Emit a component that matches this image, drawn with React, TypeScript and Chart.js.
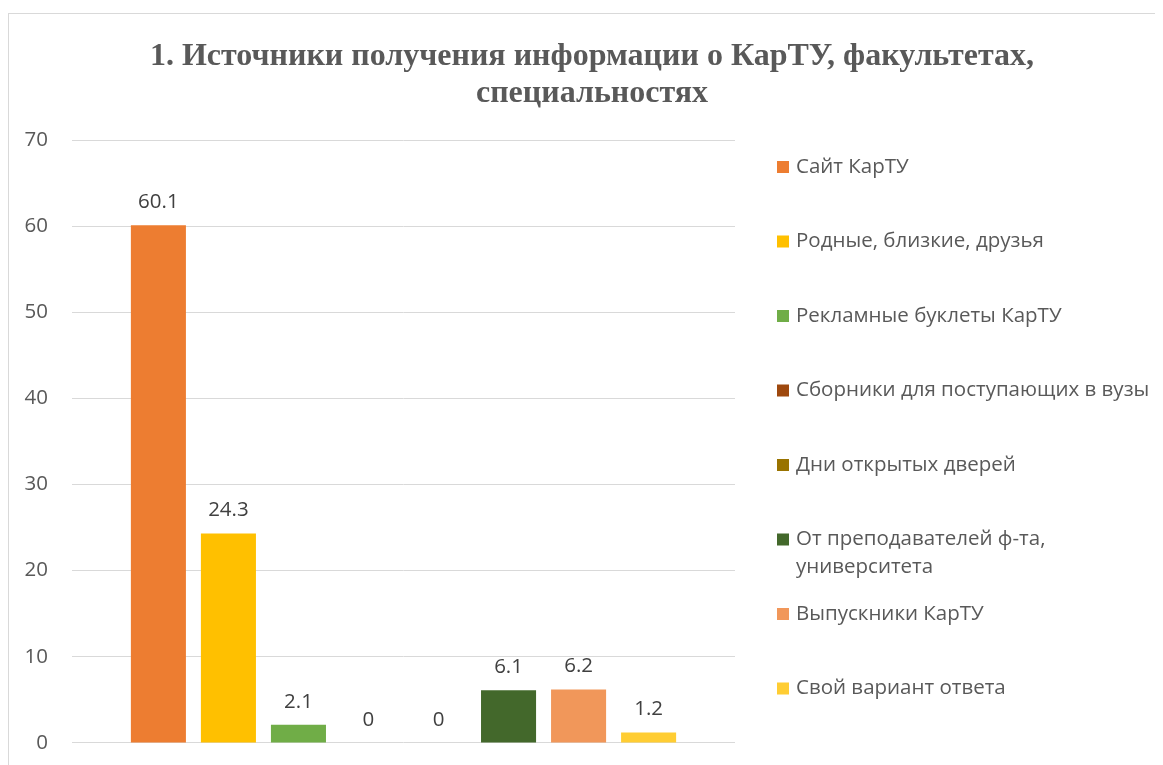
import React, { useEffect, useRef } from "react";
import { Chart, registerables } from "chart.js";

Chart.register(...registerables);

const titleLines = ["1. Источники получения информации о КарТУ, факультетах,", "специальностях"];
const categories = [""];
const seriesNames = [
  "Сайт КарТУ",
  "Родные, близкие, друзья",
  "Рекламные буклеты КарТУ",
  "Сборники для поступающих в вузы",
  "Дни открытых дверей",
  "От преподавателей ф-та, университета",
  "Выпускники КарТУ",
  "Свой вариант ответа",
];
const seriesValues = [60.1, 24.3, 2.1, 0, 0, 6.1, 6.2, 1.2];
const seriesColors = ["#ED7D31", "#FFC000", "#70AD47", "#9E480E", "#997300", "#43682B", "#F1975A", "#FFCD33"];
const yTicks = [0, 10, 20, 30, 40, 50, 60, 70];

const FONT = "'Open Sans', 'Noto Sans', sans-serif";

const dataLabelPlugin = {
  id: "dataLabels",
  afterDatasetsDraw(chart: any) {
    const ctx = chart.ctx;
    ctx.save();
    ctx.font = `20.5px ${FONT}`;
    ctx.fillStyle = "#404040";
    ctx.textAlign = "center";
    ctx.textBaseline = "middle";
    chart.data.datasets.forEach((ds: any, i: number) => {
      const meta = chart.getDatasetMeta(i);
      meta.data.forEach((el: any, j: number) => {
        ctx.fillText(String(ds.data[j]), el.x, el.y - 23);
      });
    });
    ctx.restore();
  },
};

const sideLegendPlugin = {
  id: "sideLegend",
  afterDraw(chart: any) {
    const ctx = chart.ctx;
    const x0 = chart.chartArea.right + 42;
    const textX = x0 + 19;
    const maxW = 360;
    const startY = 153;
    const step = 74.5;
    const lineH = 28;
    ctx.save();
    ctx.font = `20.5px ${FONT}`;
    ctx.textBaseline = "middle";
    ctx.textAlign = "left";
    chart.data.datasets.forEach((ds: any, i: number) => {
      const cy = startY + step * i;
      ctx.fillStyle = ds.backgroundColor;
      ctx.fillRect(x0, cy - 6, 12, 12);
      const words = String(ds.label).split(" ");
      const lines: string[] = [];
      let cur = "";
      words.forEach((w) => {
        const test = cur ? cur + " " + w : w;
        if (ctx.measureText(test).width > maxW && cur) {
          lines.push(cur);
          cur = w;
        } else cur = test;
      });
      if (cur) lines.push(cur);
      ctx.fillStyle = "#595959";
      lines.forEach((ln, k) => ctx.fillText(ln, textX, cy + k * lineH));
    });
    ctx.restore();
  },
};

export default function App() {
  const ref = useRef<HTMLCanvasElement | null>(null);
  useEffect(() => {
    if (!ref.current) return;
    const chart = new Chart(ref.current, {
      type: "bar",
      data: {
        labels: categories,
        datasets: seriesNames.map((name, i) => ({
          label: name,
          data: [seriesValues[i]],
          backgroundColor: seriesColors[i],
          borderWidth: 0,
          categoryPercentage: 0.845,
          barPercentage: 0.786,
        })),
      },
      options: {
        animation: false,
        responsive: false,
        maintainAspectRatio: false,
        layout: { padding: { left: 12, right: 0, top: 0, bottom: 8 } },
        plugins: {
          legend: { display: false },
          tooltip: { enabled: false },
          title: {
            display: true,
            text: titleLines,
            color: "#595959",
            font: { family: "'Liberation Serif', 'Times New Roman', serif", size: 32, weight: "bold", lineHeight: "37px" } as any,
            padding: { top: 24, bottom: 28 },
          },
        },
        scales: {
          x: { display: false },
          y: {
            min: 0,
            max: 70,
            afterBuildTicks: (scale: any) => {
              scale.ticks = yTicks.map((v) => ({ value: v }));
            },
            afterFit: (scale: any) => {
              scale.width = 51;
            },
            border: { display: false },
            grid: { color: "#D9D9D9", lineWidth: 1, drawTicks: false },
            ticks: {
              color: "#595959",
              font: { family: FONT, size: 20.5, lineHeight: 0.01 },
              padding: 24,
            },
          },
          legendSpace: {
            type: "linear",
            position: "right",
            display: true,
            afterFit: (scale: any) => {
              scale.width = 428;
            },
            border: { display: false },
            grid: { display: false, drawTicks: false },
            ticks: { display: false },
          },
        },
      },
      plugins: [dataLabelPlugin, sideLegendPlugin],
    });
    return () => chart.destroy();
  }, []);
  return (
    <div
      style={{
        marginTop: 5,
        width: 1155,
        height: 752,
        borderLeft: "1px solid #D9D9D9",
        borderTop: "1px solid #D9D9D9",
        boxSizing: "border-box",
        background: "#fff",
        overflow: "hidden",
      }}
    >
      <canvas ref={ref} width={1154} height={753} style={{ display: "block" }} />
    </div>
  );
}
